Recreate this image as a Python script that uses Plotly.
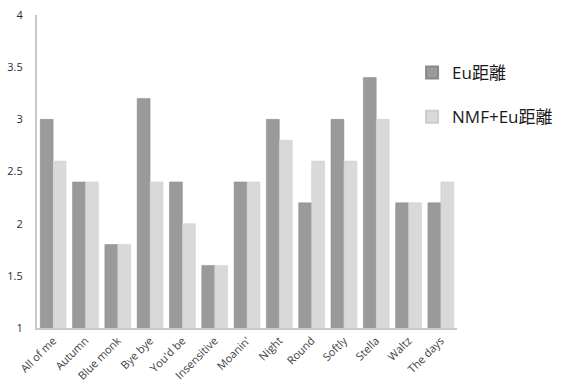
import plotly.graph_objects as go

songs = ["All of me", "Autumn", "Blue monk", "Bye bye", "You'd be", "Insensitive",
         "Moanin'", "Night", "Round", "Softly", "Stella", "Waltz", "The days"]
eu_dist = [3.0, 2.4, 1.8, 3.2, 2.4, 1.6, 2.4, 3.0, 2.2, 3.0, 3.4, 2.2, 2.2]
nmf_eu_dist = [2.6, 2.4, 1.8, 2.4, 2.0, 1.6, 2.4, 2.8, 2.6, 2.6, 3.0, 2.2, 2.4]
y_ticks = [1, 1.5, 2, 2.5, 3, 3.5, 4]

fig = go.Figure()
fig.add_trace(go.Bar(
    x=songs, y=eu_dist, name="Eu距離",
    marker=dict(color="#9a9a9a", line=dict(color="#8a8a8a", width=0.5)),
    legendgroup="a",
))
fig.add_trace(go.Bar(
    x=songs, y=nmf_eu_dist, name="NMF+Eu距離",
    marker=dict(color="#d9d9d9", line=dict(color="#cccccc", width=0.5)),
    legendgroup="b",
))

fig.update_layout(
    width=582, height=390,
    margin=dict(l=37, r=125, t=15, b=62),
    paper_bgcolor="white", plot_bgcolor="white",
    barmode="group", bargap=0.2, bargroupgap=0,
    font=dict(family="Open Sans, DejaVu Sans, sans-serif"),
    showlegend=True,
    legend=dict(
        x=0.893, y=0.872, xanchor="left", yanchor="top",
        font=dict(size=17, color="#1a1a1a",
                  family="Open Sans, Noto Sans CJK JP, sans-serif"),
        tracegroupgap=19, itemsizing="constant",
        bgcolor="rgba(0,0,0,0)",
    ),
    xaxis=dict(
        showline=True, linecolor="#c8c8c8", linewidth=2,
        ticks="", tickangle=-45, automargin=False,
        tickfont=dict(size=11, color="#404040"),
        showgrid=False,
    ),
    yaxis=dict(
        range=[1, 4], tickvals=y_ticks,
        ticktext=[f"{v:g}" for v in y_ticks],
        showline=True, linecolor="#c8c8c8", linewidth=2,
        ticks="", showgrid=False, zeroline=False, automargin=False,
        tickfont=dict(size=11, color="#1f2d4a"),
        ticklabelstandoff=10,
    ),
)

fig.write_html("out.html")
